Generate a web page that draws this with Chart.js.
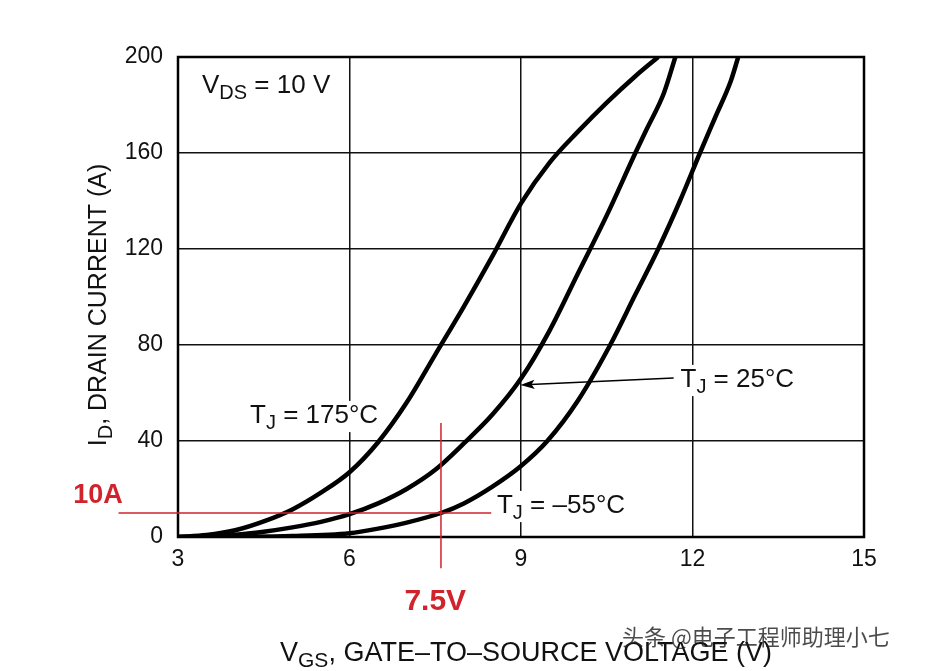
<!DOCTYPE html>
<html>
<head>
<meta charset="utf-8">
<script src="https://cdn.jsdelivr.net/npm/chart.js@4"></script>
<style>
  body { margin: 0; background: #fff; }
  #wrap { width: 927px; height: 671px; }
</style>
</head>
<body>
<div id="wrap"><canvas id="myChart" width="927" height="671"></canvas></div>
<script>
// transfer characteristics
const vgs175 = [3.0, 3.5, 4.0, 4.5, 5.0, 5.5, 6.0, 6.5, 7.0, 7.5, 8.0, 8.5, 9.0, 9.5, 10.0, 10.5, 11.0, 11.4];
const id175 = [0, 0.8, 2.8, 6.5, 11.5, 18.5, 27, 39.5, 56, 76, 96, 117, 139, 156, 169, 181, 192, 200];

const vgs25 = [3.0, 3.5, 4.0, 4.5, 5.0, 5.5, 6.0, 6.5, 7.0, 7.5, 8.0, 8.5, 9.0, 9.5, 10.0, 10.5, 11.0, 11.2, 11.5, 11.7];
const id25 = [0, 0.3, 0.9, 2.2, 4, 6.3, 9.5, 14, 20, 28, 39, 51, 66, 86, 110, 134, 160, 170, 185, 200];

const vgsM55 = [3.0, 4.0, 5.0, 6.0, 6.5, 7.0, 7.6, 8.0, 8.5, 9.0, 9.46, 10.0, 10.56, 11.0, 11.4, 11.78, 12.13, 12.4, 12.67, 12.8];
const idM55 = [0, 0.1, 0.4, 1.6, 3.5, 6, 10, 14, 21, 29.6, 40, 57, 80, 101, 120, 140, 160, 175, 190, 200];

const xTicks = [3, 6, 9, 12, 15];
const yTicks = [0, 40, 80, 120, 160, 200];

// red marker: 10 A at 7.5 V
const markAmps = [10];
const markVolts = [7.6];
const markTexts = ["10A", "7.5V"];

const FONT = "'Liberation Sans', Arial, Helvetica, sans-serif";
const RED = "#d0232c";

function pts(xs, ys) {
  return xs.map((v, i) => ({ x: v, y: ys[i] }));
}

function richWidth(ctx, parts, size) {
  let w = 0;
  for (const [t, sub] of parts) {
    ctx.font = (sub ? Math.round(size * 0.78) : size) + "px " + FONT;
    w += ctx.measureText(t).width;
  }
  return w;
}

function drawRich(ctx, parts, x, y, size) {
  let cx = x;
  for (const [t, sub] of parts) {
    ctx.font = (sub ? Math.round(size * 0.78) : size) + "px " + FONT;
    ctx.fillText(t, cx, y + (sub ? size * 0.22 : 0));
    cx += ctx.measureText(t).width;
  }
  return cx - x;
}

function labelBox(ctx, parts, x, y, size) {
  const w = richWidth(ctx, parts, size);
  ctx.fillStyle = "#fff";
  ctx.fillRect(x - 4, y - size * 0.85, w + 8, size * 1.2);
  ctx.fillStyle = "#111";
  drawRich(ctx, parts, x, y, size);
}

const overlay = {
  id: "overlay",
  beforeDatasetsDraw(chart) {
    const { ctx, scales: { x, y } } = chart;
    ctx.save();
    ctx.textAlign = "left";
    ctx.textBaseline = "alphabetic";
    labelBox(ctx, [["V", false], ["DS", true], [" = 10 V", false]], x.getPixelForValue(3.42), y.getPixelForValue(185), 26);
    labelBox(ctx, [["T", false], ["J", true], [" = 175°C", false]], x.getPixelForValue(4.26), y.getPixelForValue(47.5), 26);
    labelBox(ctx, [["T", false], ["J", true], [" = 25°C", false]], x.getPixelForValue(11.79), y.getPixelForValue(62.5), 26);
    labelBox(ctx, [["T", false], ["J", true], [" = –55°C", false]], x.getPixelForValue(8.58), y.getPixelForValue(10), 26);
    ctx.restore();
  },
  afterDatasetsDraw(chart) {
    const { ctx, chartArea: a, scales: { x, y } } = chart;
    ctx.save();

    // frame
    ctx.strokeStyle = "#000";
    ctx.lineWidth = 2.5;
    ctx.strokeRect(a.left, a.top, a.right - a.left, a.bottom - a.top);

    // red guide lines
    ctx.strokeStyle = RED;
    ctx.lineWidth = 1.5;
    ctx.beginPath();
    ctx.moveTo(x.getPixelForValue(1.96), y.getPixelForValue(markAmps[0]));
    ctx.lineTo(x.getPixelForValue(8.48), y.getPixelForValue(markAmps[0]));
    ctx.moveTo(x.getPixelForValue(markVolts[0]), y.getPixelForValue(47.5));
    ctx.lineTo(x.getPixelForValue(markVolts[0]), y.getPixelForValue(-13));
    ctx.stroke();

    ctx.fillStyle = RED;
    ctx.font = "bold 27px " + FONT;
    ctx.textAlign = "center";
    ctx.textBaseline = "alphabetic";
    ctx.fillText(markTexts[0], 98, 503);
    ctx.font = "bold 30px " + FONT;
    ctx.fillText(markTexts[1], x.getPixelForValue(7.5), 610);

    // arrow to the 25°C curve
    const x0 = x.getPixelForValue(11.67), y0 = y.getPixelForValue(66.3);
    const x1 = x.getPixelForValue(8.99), y1 = y.getPixelForValue(63.3);
    const ang = Math.atan2(y1 - y0, x1 - x0);
    ctx.strokeStyle = "#000";
    ctx.fillStyle = "#000";
    ctx.lineWidth = 1.5;
    ctx.beginPath();
    ctx.moveTo(x0, y0);
    ctx.lineTo(x1 - Math.cos(ang) * 10, y1 - Math.sin(ang) * 10);
    ctx.stroke();
    ctx.beginPath();
    ctx.moveTo(x1, y1);
    ctx.lineTo(x1 - Math.cos(ang - 0.32) * 15, y1 - Math.sin(ang - 0.32) * 15);
    ctx.lineTo(x1 - Math.cos(ang) * 11, y1 - Math.sin(ang) * 11);
    ctx.lineTo(x1 - Math.cos(ang + 0.32) * 15, y1 - Math.sin(ang + 0.32) * 15);
    ctx.closePath();
    ctx.fill();

    // axis titles with subscripts
    ctx.fillStyle = "#111";
    ctx.textAlign = "left";
    const xt = [["V", false], ["GS", true], [", GATE–TO–SOURCE VOLTAGE (V)", false]];
    const xw = richWidth(ctx, xt, 27);
    drawRich(ctx, xt, 526 - xw / 2, 661, 27);

    const yt = [["I", false], ["D", true], [", DRAIN CURRENT (A)", false]];
    const yw = richWidth(ctx, yt, 25);
    ctx.translate(106, 305);
    ctx.rotate(-Math.PI / 2);
    drawRich(ctx, yt, -yw / 2, 0, 25);
    ctx.restore();

    // source watermark
    ctx.save();
    ctx.fillStyle = "rgba(30,30,30,0.8)";
    ctx.font = "22px 'Noto Sans CJK SC', sans-serif";
    ctx.textBaseline = "middle";
    ctx.fillText("头条 @电子工程师助理小七", 622, 637);
    ctx.restore();
  }
};

const curveStyle = {
  borderColor: "#000",
  borderWidth: 4.5,
  pointRadius: 0,
  fill: false,
  cubicInterpolationMode: "monotone"
};

const ctx = document.getElementById("myChart").getContext("2d");
const myChart = new Chart(ctx, {
  type: "line",
  data: {
    datasets: [
      { label: "TJ = 175°C", data: pts(vgs175, id175), ...curveStyle },
      { label: "TJ = 25°C", data: pts(vgs25, id25), ...curveStyle },
      { label: "TJ = -55°C", data: pts(vgsM55, idM55), ...curveStyle }
    ]
  },
  options: {
    responsive: false,
    animation: false,
    devicePixelRatio: 1,
    layout: { padding: { left: 0, right: 63, top: 57, bottom: 0 } },
    plugins: { legend: { display: false }, tooltip: { enabled: false } },
    scales: {
      x: {
        type: "linear",
        min: xTicks[0],
        max: xTicks[xTicks.length - 1],
        afterBuildTicks: (s) => { s.ticks = xTicks.map(v => ({ value: v })); },
        afterFit: (s) => { s.height = 134; },
        grid: { color: "#111", lineWidth: 1.5, drawTicks: false },
        border: { display: false },
        ticks: { color: "#111", font: { family: FONT, size: 23 }, padding: 9, maxRotation: 0 }
      },
      y: {
        type: "linear",
        min: yTicks[0],
        max: yTicks[yTicks.length - 1],
        afterBuildTicks: (s) => { s.ticks = yTicks.map(v => ({ value: v })); },
        afterFit: (s) => { s.width = 178; },
        grid: { color: "#111", lineWidth: 1.5, drawTicks: false },
        border: { display: false },
        ticks: { color: "#111", font: { family: FONT, size: 23 }, padding: 15 }
      }
    }
  },
  plugins: [overlay]
});
</script>
</body>
</html>
